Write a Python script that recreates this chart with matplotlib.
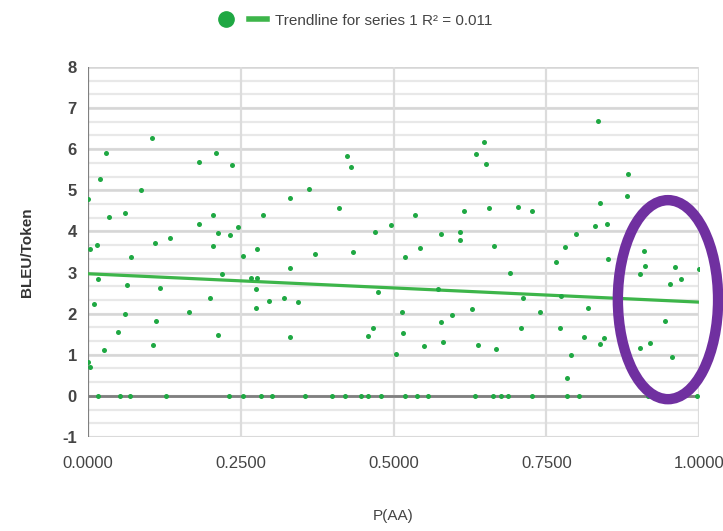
import numpy as np
import matplotlib
matplotlib.use('Agg')
import matplotlib.pyplot as plt
from matplotlib.patches import Ellipse
from matplotlib.lines import Line2D

# data (x = P(AA), y = BLEU/Token)
p_aa = [0.0005, 0.030, 0.019, 0.104, 0.087, 0.035, 0.060, 0.181, 0.210, 0.236,
        0.181, 0.204, 0.213, 0.233, 0.246, 0.286, 0.015, 0.004, 0.109, 0.134,
        0.205, 0.277, 0.016, 0.010, 0.027, 0.000, 0.004, 0.049, 0.061, 0.064,
        0.070, 0.107, 0.112, 0.118, 0.165, 0.199, 0.213, 0.219, 0.254, 0.267,
        0.276, 0.275, 0.275, 0.296, 0.330, 0.371, 0.433, 0.470, 0.320, 0.343,
        0.330, 0.474, 0.458, 0.466, 0.504, 0.513, 0.516, 0.518, 0.543, 0.577,
        0.609, 0.609, 0.549, 0.578, 0.581, 0.596, 0.573, 0.628, 0.638, 0.423,
        0.430, 0.362, 0.331, 0.410, 0.495, 0.535, 0.616, 0.635, 0.648, 0.652,
        0.834, 0.883, 0.882, 0.656, 0.703, 0.727, 0.838, 0.830, 0.849, 0.798,
        0.664, 0.780, 0.691, 0.712, 0.667, 0.709, 0.740, 0.766, 0.774, 0.773,
        0.790, 0.783, 0.811, 0.837, 0.845, 0.818, 0.851, 0.909, 0.911, 0.903,
        0.961, 0.953, 0.970, 0.9995, 0.944, 0.904, 0.920, 0.956]
bleu = [4.78, 5.90, 5.28, 6.28, 5.00, 4.36, 4.44, 5.69, 5.90, 5.62,
        4.18, 4.40, 3.97, 3.92, 4.10, 4.41, 3.68, 3.56, 3.73, 3.85,
        3.64, 3.56, 2.84, 2.24, 1.11, 0.83, 0.71, 1.56, 2.00, 2.69,
        3.38, 1.23, 1.82, 2.62, 2.04, 2.39, 1.47, 2.97, 3.41, 2.86,
        2.86, 2.59, 2.14, 2.30, 3.11, 3.44, 3.49, 3.99, 2.39, 2.28,
        1.44, 2.52, 1.46, 1.66, 1.02, 2.05, 1.52, 3.37, 3.60, 3.93,
        3.98, 3.78, 1.22, 1.79, 1.31, 1.96, 2.59, 2.12, 1.23, 5.83,
        5.56, 5.02, 4.82, 4.57, 4.15, 4.39, 4.50, 5.87, 6.17, 5.63,
        6.69, 5.39, 4.86, 4.56, 4.59, 4.49, 4.69, 4.14, 4.17, 3.94,
        3.64, 3.62, 2.99, 2.38, 1.15, 1.65, 2.03, 3.25, 2.43, 1.65,
        1.00, 0.43, 1.43, 1.27, 1.40, 2.14, 3.33, 3.52, 3.15, 2.96,
        3.14, 2.71, 2.84, 3.09, 1.81, 1.17, 1.28, 0.94]
# runs scoring zero
p_aa_zero = [0.016, 0.052, 0.068, 0.128, 0.231, 0.253, 0.283, 0.301, 0.355, 0.399,
             0.420, 0.446, 0.458, 0.480, 0.519, 0.539, 0.556, 0.634, 0.663, 0.675,
             0.688, 0.726, 0.783, 0.804, 0.916, 0.996]
bleu_zero = [0.0] * len(p_aa_zero)

# linear trendline as shown
trend_intercept = 2.97
trend_slope = -0.69
trend_label = 'Trendline for series 1 R\u00b2 = 0.011'

x_ticks = [0.0, 0.25, 0.5, 0.75, 1.0]
y_ticks = list(range(-1, 9))

GREEN = '#1fa843'
TREND = '#3db54a'
PURPLE = '#7030a0'

plt.rcParams['font.family'] = ['Liberation Sans', 'DejaVu Sans']

fig = plt.figure(figsize=(7.23, 5.31), dpi=100, facecolor='white')
ax = fig.add_axes([0.1217, 0.177, 0.8453, 0.697])

ax.set_xlim(0, 1)
ax.set_ylim(-1, 8)

# gridlines: minor every third, major at integers
for v in np.arange(-1, 8.01, 1 / 3):
    ax.axhline(v, color='#e8e8e8', linewidth=1.6, zorder=0)
for v in y_ticks:
    ax.axhline(v, color='#d6d6d6', linewidth=1.8, zorder=0)
for v in x_ticks[1:]:
    ax.axvline(v, color='#dcdcdc', linewidth=1.6, zorder=0)
ax.axhline(0, color='#7f7f7f', linewidth=2.0, zorder=1)
ax.axvline(0, color='#808080', linewidth=1.6, zorder=1)

for s in ax.spines.values():
    s.set_visible(False)

# trendline
xs = np.array([0.0, 1.0])
ax.plot(xs, trend_intercept + trend_slope * xs, color=TREND, linewidth=2.3, zorder=2)

ax.scatter(p_aa, bleu, s=13, color=GREEN, linewidths=0, zorder=3)
ax.scatter(p_aa_zero, bleu_zero, s=13, color=GREEN, linewidths=0, zorder=3)

ax.set_xticks(x_ticks)
ax.set_xticklabels(['%.4f' % v for v in x_ticks])
ax.set_yticks(y_ticks)
ax.set_yticklabels([str(v) for v in y_ticks])
ax.tick_params(axis='both', length=0, labelsize=12, colors='#444444')
ax.tick_params(axis='x', pad=14)
ax.tick_params(axis='y', pad=8)
for t in ax.get_yticklabels():
    t.set_fontweight('bold')

ax.set_xlabel('P(AA)', fontsize=11, color='#444444', labelpad=27)
ax.set_ylabel('BLEU/Token', fontsize=11, color='#333333', fontweight='bold', labelpad=20)

# highlight ellipse
ell = Ellipse((0.949, 2.34), 0.164, 4.84, fill=False, edgecolor=PURPLE,
              linewidth=7.5, clip_on=False, zorder=5)
ax.add_patch(ell)

# legend
handles = [Line2D([], [], marker='o', linestyle='none', markersize=11,
                  markerfacecolor=GREEN, markeredgecolor=GREEN),
           Line2D([], [], color=TREND, linewidth=4)]
fig.legend(handles, ['', trend_label], loc='upper center', ncol=2,
           bbox_to_anchor=(0.49, 1.0), frameon=False, fontsize=11,
           handlelength=1.2, columnspacing=0.4, handletextpad=0.5,
           labelcolor='#444444')

fig.savefig('out.png', dpi=100, facecolor='white')
